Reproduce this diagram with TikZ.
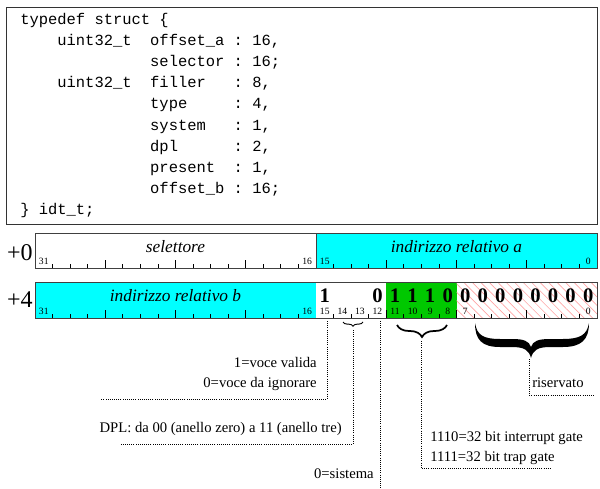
\documentclass[tikz,border=0pt]{standalone}
\usepackage{fontspec}
\setmainfont{Liberation Serif}
\setmonofont{Liberation Mono}
\usetikzlibrary{decorations.pathreplacing,patterns.meta}
\definecolor{fieldcyan}{RGB}{0,255,255}
\definecolor{fieldgreen}{RGB}{0,200,0}
\definecolor{hatchpink}{RGB}{255,165,165}
\tikzset{
  field/.style={draw=black!75, line width=0.75pt},
  tick/.style={line width=0.6pt},
  leader/.style={densely dotted, line width=0.6pt},
  bitno/.style={font=\fontsize{7.2}{8}\selectfont, inner sep=0pt, anchor=base},
  fieldname/.style={font=\fontsize{13}{15}\selectfont\itshape, inner sep=0pt, anchor=base},
  bitval/.style={font=\fontsize{15.5}{17}\selectfont\bfseries, inner sep=0pt, anchor=base},
  offs/.style={font=\fontsize{18}{20}\selectfont, inner sep=0pt, anchor=base east},
  note/.style={font=\fontsize{11}{13}\selectfont, inner sep=0pt},
  codeline/.style={font=\fontsize{11.6}{14}\selectfont\ttfamily, inner sep=0pt, anchor=base west},
  smallbrace/.style={decorate, decoration={brace, mirror, amplitude=#1}, line width=0.7pt},
}
\def\bw{17.5625}

\begin{document}
\begin{tikzpicture}[x=0.75pt, y=-0.75pt]
  \useasboundingbox (0,0) rectangle (600,489);

  \draw [line width=0.75pt, draw=black!80] (6,7) rectangle (597,224);
  \node [codeline] (c0) at (20,24.0) {typedef\ struct\ \{};
  \node [codeline] (c1) at (20,45.2) {\ \ \ \ uint32\_t\ \ offset\_a\ :\ 16,};
  \node [codeline] (c2) at (20,66.4) {\ \ \ \ \ \ \ \ \ \ \ \ \ \ selector\ :\ 16;};
  \node [codeline] (c3) at (20,87.6) {\ \ \ \ uint32\_t\ \ filler\ \ \ :\ 8,};
  \node [codeline] (c4) at (20,108.8) {\ \ \ \ \ \ \ \ \ \ \ \ \ \ type\ \ \ \ \ :\ 4,};
  \node [codeline] (c5) at (20,130.0) {\ \ \ \ \ \ \ \ \ \ \ \ \ \ system\ \ \ :\ 1,};
  \node [codeline] (c6) at (20,151.2) {\ \ \ \ \ \ \ \ \ \ \ \ \ \ dpl\ \ \ \ \ \ :\ 2,};
  \node [codeline] (c7) at (20,172.4) {\ \ \ \ \ \ \ \ \ \ \ \ \ \ present\ \ :\ 1,};
  \node [codeline] (c8) at (20,193.6) {\ \ \ \ \ \ \ \ \ \ \ \ \ \ offset\_b\ :\ 16;};
  \node [codeline] (c9) at (20,214.8) {\}\ idt\_t;};

  \draw [field] (35,233) rectangle (316,268);
  \draw [field, fill=fieldcyan] (316,233) rectangle (597,268);
  \draw [field, fill=fieldcyan] (35,282) rectangle (316,318);
  \fill [white] (316,282) rectangle (386.25,318);
  \fill [fieldgreen] (386.25,282) rectangle (456.5,318);
  \fill [pattern={Lines[angle=-45, distance=4.5pt, line width=0.5pt]}, pattern color=hatchpink] (456.5,282) rectangle (597,318);
  \draw [field] (35,282) rectangle (597,318);

  \foreach \k in {1,...,31}{
    \pgfmathsetmacro\tl{mod(\k,4)==0 ? 8 : 4}
    \ifnum\k=16\else
      \draw [tick] ({35+\k*\bw},268) -- ++(0,-\tl);
      \draw [tick] ({35+\k*\bw},318) -- ++(0,-\tl);
    \fi
  }

  \node [offs] (off0) at (33,260) {+0};
  \node [offs] (off4) at (33,307) {+4};
  \node [fieldname] (sel) at (175.5,252) {selettore};
  \node [fieldname] (rela) at (456.5,252) {indirizzo relativo a};
  \node [fieldname] (relb) at (175.5,301) {indirizzo relativo b};

  \foreach \b in {31,16,15,0}
    \node [bitno] (u\b) at ({35+(31.5-\b)*\bw},264.5) {\b};
  \foreach \b in {31,16,15,14,13,12,11,10,9,8,7,0}
    \node [bitno] (l\b) at ({35+(31.5-\b)*\bw},314.5) {\b};

  \foreach \b/\v in {15/1,12/0,11/1,10/1,9/1,8/0,7/0,6/0,5/0,4/0,3/0,2/0,1/0,0/0}
    \node [bitval] (v\b) at ({35+(31.5-\b)*\bw},302) {\v};

  \draw [smallbrace=3.2pt] (343,322) -- (363,322);
  \draw [smallbrace=9pt, line width=1.3pt] (397,325) -- (447,325);
  \fill (475,323) .. controls (475,340) and (482,347) .. (500,347) -- (512,347)
        .. controls (524,347) and (529,350) .. (531,358)
        .. controls (533,350) and (538,347) .. (550,347) -- (563,347)
        .. controls (581,347) and (589,340) .. (589,323)
        .. controls (587,335) and (580,339) .. (563,339) -- (550,339)
        .. controls (538,339) and (533,341) .. (531,347)
        .. controls (529,341) and (524,339) .. (512,339) -- (500,339)
        .. controls (483,339) and (477,335) .. (475,323) -- cycle;

  \coordinate (p15) at (327,321);
  \coordinate (p15end) at (100,399);
  \coordinate (p13) at (353,330);
  \coordinate (p13end) at (121,444);
  \coordinate (p12) at (380,321);
  \coordinate (p12end) at (380,489);
  \coordinate (p8) at (421,341);
  \coordinate (p8end) at (552,468);
  \coordinate (p0) at (529,359);
  \coordinate (p0end) at (595,395);
  \draw [leader] (p15) |- (p15end);
  \draw [leader] (p13) |- (p13end);
  \draw [leader] (p12) -- (p12end);
  \draw [leader] (p8) |- (p8end);
  \draw [leader] (p0) |- (p0end);

  \node [note, anchor=base east] (valid) at (317,367) {1=voce valida};
  \node [note, anchor=base east] (ignore) at (317,387) {0=voce da ignorare};
  \node [note, anchor=base east] (dpl) at (342,432) {DPL: da 00 (anello zero) a 11 (anello tre)};
  \node [note, anchor=base east] (sys) at (374,478) {0=sistema};
  \node [note, anchor=base west] (intr) at (430,441) {1110=32 bit interrupt gate};
  \node [note, anchor=base west] (trap) at (430,461) {1111=32 bit trap gate};
  \node [note, anchor=base west] (res) at (532,387) {riservato};
\end{tikzpicture}
\end{document}
